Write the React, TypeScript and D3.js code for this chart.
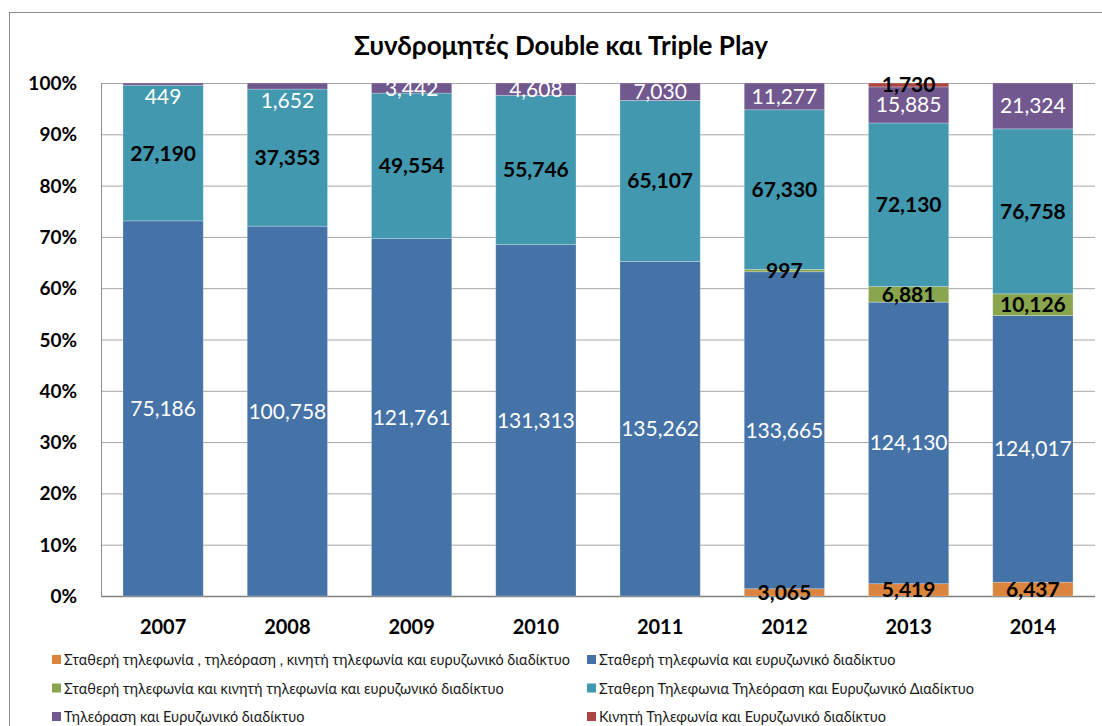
import React from 'react';
import * as d3 from 'd3';

// data
const years = ['2007', '2008', '2009', '2010', '2011', '2012', '2013', '2014'];
const fixedTvMobileBb = [0, 0, 0, 0, 0, 3065, 5419, 6437];
const fixedBb = [75186, 100758, 121761, 131313, 135262, 133665, 124130, 124017];
const fixedMobileBb = [0, 0, 0, 0, 0, 997, 6881, 10126];
const fixedTvBb = [27190, 37353, 49554, 55746, 65107, 67330, 72130, 76758];
const tvBb = [449, 1652, 3442, 4608, 7030, 11277, 15885, 21324];
const mobileBb = [0, 0, 0, 0, 0, 0, 1730, 0];

const seriesNames = [
    'Σταθερή τηλεφωνία , τηλεόραση , κινητή τηλεφωνία και ευρυζωνικό διαδίκτυο',
    'Σταθερή τηλεφωνία και ευρυζωνικό διαδίκτυο',
    'Σταθερή τηλεφωνία και κινητή τηλεφωνία και ευρυζωνικό διαδίκτυο',
    'Σταθερη Τηλεφωνια Τηλεόραση και Ευρυζωνικό Διαδίκτυο',
    'Τηλεόραση και Ευρυζωνικό διαδίκτυο',
    'Κινητή Τηλεφωνία και Ευρυζωνικό διαδίκτυο',
];
const seriesValues = [fixedTvMobileBb, fixedBb, fixedMobileBb, fixedTvBb, tvBb, mobileBb];
const yTicks = [0, 0.1, 0.2, 0.3, 0.4, 0.5, 0.6, 0.7, 0.8, 0.9, 1];

const colors = ['#DB843D', '#4572A7', '#89A54E', '#4198AF', '#71588F', '#AA4643'];
const whiteLabel = [false, true, false, false, true, false];

const font = "Lato, 'Noto Sans', sans-serif";

const App = () => {
    const width = 1102,
        height = 726;
    const plot = { left: 101, top: 83, right: 1095, bottom: 596 };

    // normalised rows for a 100% stack
    const rows = years.map((year, i) => {
        const total = d3.sum(seriesValues, (s) => s[i]);
        const row: any = { year };
        seriesValues.forEach((s, k) => { row['s' + k] = s[i] / total; });
        return row;
    });
    const keys = seriesValues.map((_, k) => 's' + k);
    const stacked = d3.stack().keys(keys)(rows);

    const xScale = d3.scaleBand()
        .domain(years)
        .range([plot.left, plot.right])
        .paddingInner(0.354)
        .paddingOuter(0.177);

    const yScale = d3.scaleLinear()
        .domain([0, 1])
        .range([plot.bottom, plot.top]);

    const fmt = d3.format(',');

    return (
        <svg width={width} height={height} style={{ position: 'absolute', left: 0, top: 0 }} fontFamily={font}>
            <rect x={9.5} y={12.5} width={1100} height={730} fill="#fff" stroke="#8c8c8c" />
            <text x={561} y={55} textAnchor="middle" fontSize={26} fontWeight="bold" fill="#000">
                Συνδρομητές Double και Triple Play
            </text>

            {yTicks.map((t) => (
                <g key={t}>
                    <line x1={plot.left} x2={plot.right} y1={yScale(t) + 0.5} y2={yScale(t) + 0.5}
                        stroke={t === 0 ? '#7f7f7f' : '#a6a6a6'} strokeWidth={t === 0 ? 1.5 : 1} />
                    <text x={77} y={yScale(t) + 7} textAnchor="end" fontSize={19} fontWeight="bold" fill="#000">
                        {Math.round(t * 100) + '%'}
                    </text>
                </g>
            ))}
            <line x1={plot.left + 0.5} x2={plot.left + 0.5} y1={plot.top} y2={plot.bottom} stroke="#8c8c8c" />

            {stacked.map((layer, k) => (
                <g key={layer.key} fill={colors[k]}>
                    {layer.map((d, i) => (
                        d[1] - d[0] > 0 ? (
                            <rect key={i}
                                x={xScale(years[i])}
                                y={yScale(d[1])}
                                width={xScale.bandwidth()}
                                height={yScale(d[0]) - yScale(d[1])}
                                stroke="#ffffff" strokeOpacity={0.3} strokeWidth={0.8} />
                        ) : null
                    ))}
                </g>
            ))}

            {stacked.map((layer, k) => (
                <g key={'lab' + layer.key}>
                    {layer.map((d, i) => {
                        const v = seriesValues[k][i];
                        if (!v) return null;
                        const h = yScale(d[0]) - yScale(d[1]);
                        let cy = (yScale(d[0]) + yScale(d[1])) / 2;
                        // tiny white-labelled segments get their label pushed just below
                        if (whiteLabel[k] && h < 8) cy = yScale(d[0]) + 11;
                        return (
                            <text key={i}
                                x={(xScale(years[i]) as number) + xScale.bandwidth() / 2}
                                y={cy + 7.5}
                                textAnchor="middle"
                                fontSize={21}
                                fontWeight={whiteLabel[k] ? 'normal' : 'bold'}
                                fill={whiteLabel[k] ? '#ffffff' : '#000000'}>
                                {fmt(v)}
                            </text>
                        );
                    })}
                </g>
            ))}

            {years.map((y) => (
                <text key={y} x={(xScale(y) as number) + xScale.bandwidth() / 2} y={634}
                    textAnchor="middle" fontSize={20} fontWeight="bold" fill="#000">
                    {y}
                </text>
            ))}

            {seriesNames.map((name, k) => {
                const col = k % 2, row = Math.floor(k / 2);
                const lx = col === 0 ? 52 : 587;
                const ly = 660 + row * 28.5;
                return (
                    <g key={name}>
                        <rect x={lx} y={ly - 5} width={9} height={9} fill={colors[k]} />
                        <text x={lx + 12} y={ly + 5} fontSize={14.5} fill="#1a1a1a">{name}</text>
                    </g>
                );
            })}
        </svg>
    );
};

export default App;
